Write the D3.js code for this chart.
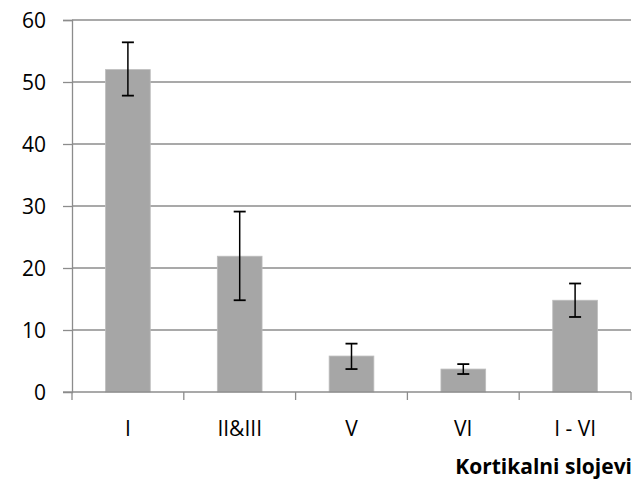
<!DOCTYPE html>
<html>
<head>
<style>
    body { margin: 0; background: #fff; }
    text { font-family: "Open Sans", "Noto Sans", sans-serif; fill: #000; }
</style>
</head>
<body>
<svg id="container" width="638" height="483"></svg>
<script src="https://cdn.jsdelivr.net/npm/d3@7"></script>
<script>
    let categories = ["I", "II&III", "V", "VI", "I - VI"]
    let values = [52.0, 21.9, 5.8, 3.7, 14.8]
    let errLow = [47.8, 14.8, 3.7, 2.9, 12.1]
    let errHigh = [56.4, 29.1, 7.8, 4.5, 17.5]
    let yTicks = [0, 10, 20, 30, 40, 50, 60]
    let axisTitle = "Kortikalni slojevi"

    let svg = d3.select("#container")
    let plotLeft = 72, plotRight = 631, plotTop = 20, plotBottom = 392

    let x = d3.scaleBand().domain(categories).range([plotLeft, plotRight]).paddingInner(0.6).paddingOuter(0.3)
    let y = d3.scaleLinear().domain([0, 60]).range([plotBottom, plotTop])

    // gridlines
    svg.append("g").selectAll("line").data(yTicks.filter(d => d > 0))
        .enter().append("line")
        .attr("x1", plotLeft).attr("x2", plotRight)
        .attr("y1", d => y(d)).attr("y2", d => y(d))
        .attr("stroke", "#8c8c8c").attr("stroke-width", 1.3)

    // bars
    svg.append("g").selectAll("rect").data(values)
        .enter().append("rect")
        .attr("x", (d, i) => x(categories[i]))
        .attr("width", x.bandwidth())
        .attr("y", d => y(d))
        .attr("height", d => plotBottom - y(d))
        .attr("fill", "#a6a6a6")
        .attr("stroke", "#bdbdbd").attr("stroke-width", 0.8)

    // y axis
    let yAxis = d3.axisLeft(y).tickValues(yTicks).tickSize(9).tickFormat("")
    let gy = svg.append("g").attr("transform", `translate(${plotLeft},0)`).call(yAxis)
    gy.select(".domain").attr("stroke", "#8c8c8c").attr("stroke-width", 1.3)
    gy.selectAll(".tick line").attr("stroke", "#8c8c8c").attr("stroke-width", 1.3)
    gy.selectAll(".tick").filter(d => d == 0).select("line").remove()
    svg.append("g").selectAll("text").data(yTicks)
        .enter().append("text")
        .attr("x", 46)
        .attr("y", d => y(d))
        .attr("dy", "0.36em")
        .attr("text-anchor", "end")
        .attr("font-size", 21)
        .text(d => d)

    // x axis
    let bx = d3.scaleLinear().domain([0, categories.length]).range([plotLeft, plotRight])
    let gx = svg.append("g").attr("transform", `translate(0,${plotBottom})`)
    gx.append("line").attr("x1", plotLeft).attr("x2", plotRight)
        .attr("stroke", "#8c8c8c").attr("stroke-width", 1.3)
    gx.append("line").attr("x1", plotLeft - 9).attr("x2", plotLeft)
        .attr("stroke", "#8c8c8c").attr("stroke-width", 1.3)
    gx.selectAll("line.tk").data(d3.range(categories.length + 1))
        .enter().append("line").attr("class", "tk")
        .attr("x1", d => bx(d)).attr("x2", d => bx(d))
        .attr("y1", 0).attr("y2", 8)
        .attr("stroke", "#8c8c8c").attr("stroke-width", 1.3)
    gx.selectAll("text").data(categories)
        .enter().append("text")
        .attr("x", d => x(d) + x.bandwidth() / 2)
        .attr("y", 44)
        .attr("text-anchor", "middle")
        .attr("font-size", 21)
        .text(d => d)

    // error bars
    let eg = svg.append("g").selectAll("g").data(values).enter().append("g")
    eg.append("line")
        .attr("x1", (d, i) => x(categories[i]) + x.bandwidth() / 2)
        .attr("x2", (d, i) => x(categories[i]) + x.bandwidth() / 2)
        .attr("y1", (d, i) => y(errHigh[i])).attr("y2", (d, i) => y(errLow[i]))
        .attr("stroke", "#000").attr("stroke-width", 1.5)
    eg.append("line")
        .attr("x1", (d, i) => x(categories[i]) + x.bandwidth() / 2 - 6)
        .attr("x2", (d, i) => x(categories[i]) + x.bandwidth() / 2 + 6)
        .attr("y1", (d, i) => y(errHigh[i])).attr("y2", (d, i) => y(errHigh[i]))
        .attr("stroke", "#000").attr("stroke-width", 1.8)
    eg.append("line")
        .attr("x1", (d, i) => x(categories[i]) + x.bandwidth() / 2 - 6)
        .attr("x2", (d, i) => x(categories[i]) + x.bandwidth() / 2 + 6)
        .attr("y1", (d, i) => y(errLow[i])).attr("y2", (d, i) => y(errLow[i]))
        .attr("stroke", "#000").attr("stroke-width", 1.8)

    // axis title
    svg.append("text")
        .attr("x", 632).attr("y", 474)
        .attr("text-anchor", "end")
        .attr("font-size", 21).attr("font-weight", "bold")
        .text(axisTitle)
</script>
</body>
</html>
